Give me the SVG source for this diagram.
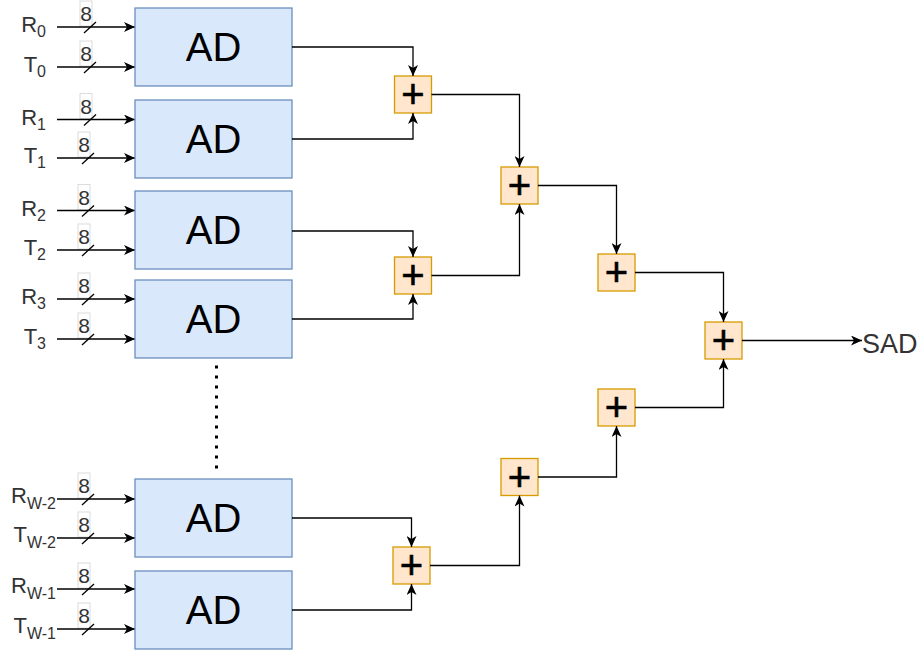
<svg xmlns="http://www.w3.org/2000/svg" width="919" height="655" viewBox="0 0 919 655">
<defs>
<marker id="arr" markerUnits="userSpaceOnUse" markerWidth="11" markerHeight="10" refX="11" refY="5" orient="auto">
<path d="M0,0 L11,5 L0,10 L3,5 Z" fill="#000"/>
</marker>
<style>
.ad{fill:#dae8fc;stroke:#6c8ebf;stroke-width:1.3}
.adt{font-family:"Liberation Sans",Arial,sans-serif;font-size:40px;fill:#000;text-anchor:middle}
.add{fill:#ffe6cc;stroke:#d79b00;stroke-width:1.3}
.addt{font-family:"Liberation Sans",Arial,sans-serif;font-size:40px;fill:#000;stroke:#000;stroke-width:0.6;text-anchor:middle}
.c{fill:none;stroke:#000;stroke-width:1.3;marker-end:url(#arr)}
.in{fill:none;stroke:#000;stroke-width:1.3;marker-end:url(#arr)}
.sl{stroke:#000;stroke-width:1.3}
.lb{fill:#fff;stroke:#dcdcdc;stroke-width:1}
.lt{font-family:"Liberation Sans",Arial,sans-serif;font-size:21px;fill:#333;text-anchor:middle}
.nm{font-family:"Liberation Sans",Arial,sans-serif;font-size:22px;fill:#333;text-anchor:end}
.sub{font-size:16px}
.subw{font-size:16px}
.sad{font-family:"Liberation Sans",Arial,sans-serif;font-size:27px;fill:#333}
</style>
</defs>

<!-- input lines with bus width labels -->
<g id="inputs">
<g id="in-R0"><rect class="lb" x="80" y="1" width="12" height="25"/><text class="lt" x="86" y="21">8</text><line class="in" x1="57" y1="27" x2="135" y2="27"/><line class="sl" x1="84" y1="33" x2="96" y2="22"/><text class="nm" x="46" y="32">R<tspan class="sub" dy="5">0</tspan></text></g>
<g id="in-T0"><rect class="lb" x="80" y="41" width="12" height="25"/><text class="lt" x="86" y="61">8</text><line class="in" x1="57" y1="67" x2="135" y2="67"/><line class="sl" x1="84" y1="73" x2="96" y2="62"/><text class="nm" x="46" y="72">T<tspan class="sub" dy="5">0</tspan></text></g>

<g id="in-R1"><rect class="lb" x="80" y="93.5" width="12" height="25"/><text class="lt" x="86" y="113.5">8</text><line class="in" x1="57" y1="119.5" x2="135" y2="119.5"/><line class="sl" x1="84" y1="125.5" x2="96" y2="114.5"/><text class="nm" x="46" y="124.5">R<tspan class="sub" dy="5">1</tspan></text></g>
<g id="in-T1"><rect class="lb" x="78" y="132" width="12" height="25"/><text class="lt" x="84" y="152">8</text><line class="in" x1="57" y1="158" x2="135" y2="158"/><line class="sl" x1="82" y1="164" x2="94" y2="153"/><text class="nm" x="46" y="163">T<tspan class="sub" dy="5">1</tspan></text></g>

<g id="in-R2"><rect class="lb" x="78" y="184.5" width="12" height="25"/><text class="lt" x="84" y="204.5">8</text><line class="in" x1="57" y1="210.5" x2="135" y2="210.5"/><line class="sl" x1="82" y1="216.5" x2="94" y2="205.5"/><text class="nm" x="46" y="215.5">R<tspan class="sub" dy="5">2</tspan></text></g>
<g id="in-T2"><rect class="lb" x="78" y="224" width="12" height="25"/><text class="lt" x="84" y="244">8</text><line class="in" x1="57" y1="250" x2="135" y2="250"/><line class="sl" x1="82" y1="256" x2="94" y2="245"/><text class="nm" x="46" y="255">T<tspan class="sub" dy="5">2</tspan></text></g>

<g id="in-R3"><rect class="lb" x="78" y="273" width="12" height="25"/><text class="lt" x="84" y="293">8</text><line class="in" x1="57" y1="299" x2="135" y2="299"/><line class="sl" x1="82" y1="305" x2="94" y2="294"/><text class="nm" x="46" y="304">R<tspan class="sub" dy="5">3</tspan></text></g>
<g id="in-T3"><rect class="lb" x="78" y="313" width="12" height="25"/><text class="lt" x="84" y="333">8</text><line class="in" x1="57" y1="339" x2="135" y2="339"/><line class="sl" x1="82" y1="345" x2="94" y2="334"/><text class="nm" x="46" y="344">T<tspan class="sub" dy="5">3</tspan></text></g>

<g id="in-RW2"><rect class="lb" x="78" y="473" width="12" height="25"/><text class="lt" x="84" y="493">8</text><line class="in" x1="57" y1="499" x2="135" y2="499"/><line class="sl" x1="82" y1="505" x2="94" y2="494"/><text class="nm" x="56" y="503">R<tspan class="subw" dy="6">W-2</tspan></text></g>
<g id="in-TW2"><rect class="lb" x="78" y="512" width="12" height="25"/><text class="lt" x="84" y="532">8</text><line class="in" x1="57" y1="538" x2="135" y2="538"/><line class="sl" x1="82" y1="544" x2="94" y2="533"/><text class="nm" x="56" y="542">T<tspan class="subw" dy="6">W-2</tspan></text></g>

<g id="in-RW1"><rect class="lb" x="78" y="563" width="12" height="25"/><text class="lt" x="84" y="583">8</text><line class="in" x1="57" y1="589" x2="135" y2="589"/><line class="sl" x1="82" y1="595" x2="94" y2="584"/><text class="nm" x="56" y="593">R<tspan class="subw" dy="6">W-1</tspan></text></g>
<g id="in-TW1"><rect class="lb" x="78" y="603" width="12" height="25"/><text class="lt" x="84" y="623">8</text><line class="in" x1="57" y1="629" x2="135" y2="629"/><line class="sl" x1="82" y1="635" x2="94" y2="624"/><text class="nm" x="56" y="633">T<tspan class="subw" dy="6">W-1</tspan></text></g>
</g>

<!-- AD nodes -->
<g id="ad0"><rect class="ad" x="135" y="8" width="157" height="78"/><text class="adt" x="213.5" y="61.3">AD</text></g>
<g id="ad1"><rect class="ad" x="135" y="100" width="157" height="78"/><text class="adt" x="213.5" y="153.3">AD</text></g>
<g id="ad2"><rect class="ad" x="135" y="191" width="157" height="78"/><text class="adt" x="213.5" y="244.3">AD</text></g>
<g id="ad3"><rect class="ad" x="135" y="280" width="157" height="78"/><text class="adt" x="213.5" y="333.3">AD</text></g>
<g id="adW2"><rect class="ad" x="135" y="479" width="157" height="78"/><text class="adt" x="213.5" y="532.3">AD</text></g>
<g id="adW1"><rect class="ad" x="135" y="571" width="157" height="78"/><text class="adt" x="213.5" y="624.3">AD</text></g>

<!-- ellipsis dots -->
<line x1="216.5" y1="365.5" x2="216.5" y2="469" stroke="#000" stroke-width="3" stroke-dasharray="3 7"/>

<!-- adders -->
<g id="addA1"><rect class="add" x="394.5" y="76" width="37" height="37"/><text class="addt" x="413" y="108">+</text></g>
<g id="addA2"><rect class="add" x="394.5" y="257" width="37" height="37"/><text class="addt" x="413" y="289">+</text></g>
<g id="addB1"><rect class="add" x="501" y="167" width="37" height="37"/><text class="addt" x="519.5" y="199">+</text></g>
<g id="addC1"><rect class="add" x="598" y="254" width="37" height="37"/><text class="addt" x="616.5" y="286">+</text></g>
<g id="addD"><rect class="add" x="705" y="322" width="37" height="37"/><text class="addt" x="723.5" y="354">+</text></g>
<g id="addE"><rect class="add" x="393" y="547" width="37" height="37"/><text class="addt" x="411.5" y="579">+</text></g>
<g id="addF"><rect class="add" x="501" y="458.5" width="37" height="37"/><text class="addt" x="519.5" y="490.5">+</text></g>
<g id="addG"><rect class="add" x="598" y="389" width="37" height="37"/><text class="addt" x="616.5" y="421">+</text></g>

<g id="out-SAD"><text class="sad" x="862" y="353">SAD</text></g>

<!-- connectors -->
<g id="connectors">
<path class="c" d="M292,47 H413 V76"/>
<path class="c" d="M292,139 H413 V113"/>
<path class="c" d="M292,231 H413 V257"/>
<path class="c" d="M292,319 H413 V294"/>
<path class="c" d="M292,518 H411.5 V547"/>
<path class="c" d="M292,610 H411.5 V584"/>
<path class="c" d="M431.5,94.5 H519.5 V167"/>
<path class="c" d="M431.5,275.5 H519.5 V204"/>
<path class="c" d="M538,185.5 H616.5 V254"/>
<path class="c" d="M430,565.5 H519.5 V495.5"/>
<path class="c" d="M538,477 H616.5 V426"/>
<path class="c" d="M635,272.5 H723.5 V322"/>
<path class="c" d="M635,407.5 H723.5 V359"/>
<path class="c" d="M742,340.5 H862"/>
</g>
</svg>
